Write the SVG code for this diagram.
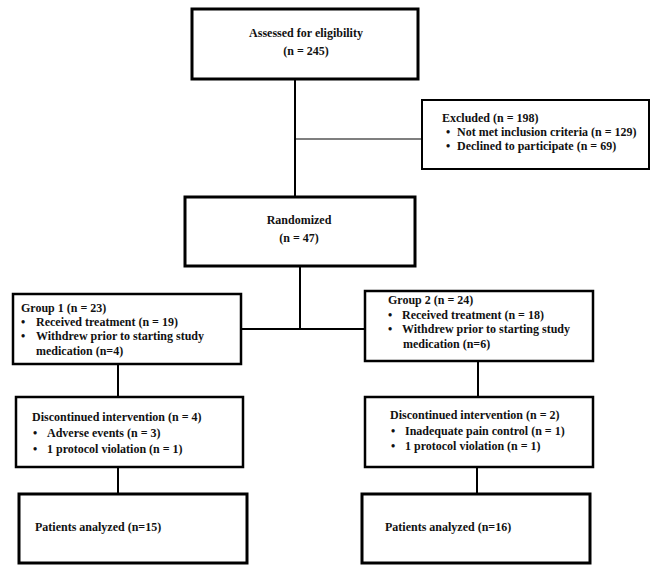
<svg xmlns="http://www.w3.org/2000/svg" width="656" height="579" viewBox="0 0 656 579">
<style>
.box{fill:#fff;stroke:#000;stroke-width:2.5}
.thick{stroke-width:3}
.thin{stroke-width:2}
.ln{stroke:#000;stroke-width:2;fill:none}
text{font-family:"Liberation Serif","Times New Roman",serif;font-size:12px;font-weight:bold;fill:#111}
.c{text-anchor:middle}
</style>
<rect width="656" height="579" fill="#fff"/>
<g id="connectors">
<line class="ln" x1="295" y1="79" x2="295" y2="197"/>
<line class="ln" x1="295" y1="139" x2="422" y2="139" style="stroke-width:1.2"/>
<line class="ln" x1="300" y1="266" x2="300" y2="329"/>
<line class="ln" x1="241" y1="329" x2="364" y2="329"/>
<line class="ln" x1="118" y1="364" x2="118" y2="397"/>
<line class="ln" x1="478" y1="361" x2="478" y2="397"/>
<line class="ln" x1="118" y1="467" x2="118" y2="494"/>
<line class="ln" x1="477" y1="467" x2="477" y2="494"/>
</g>
<g id="assessed">
<rect class="box thick" x="192" y="9" width="226" height="70"/>
<text class="c" x="306" y="37">Assessed for eligibility</text>
<text class="c" x="306" y="55">(n = 245)</text>
</g>
<g id="excluded">
<rect class="box thin" x="422" y="100" width="227" height="69"/>
<text x="442" y="122">Excluded (n = 198)</text>
<text x="446" y="136">•</text><text x="457" y="136">Not met inclusion criteria (n = 129)</text>
<text x="446" y="150">•</text><text x="457" y="150">Declined to participate (n = 69)</text>
</g>
<g id="randomized">
<rect class="box thick" x="185" y="197" width="230" height="69"/>
<text class="c" x="299" y="224">Randomized</text>
<text class="c" x="299" y="242">(n = 47)</text>
</g>
<g id="group1">
<rect class="box" x="13" y="294" width="228" height="70"/>
<text x="21" y="312">Group 1 (n = 23)</text>
<text x="21" y="326">•</text><text x="36" y="326">Received treatment (n = 19)</text>
<text x="21" y="340">•</text><text x="36" y="340">Withdrew prior to starting study</text>
<text x="36" y="355">medication (n=4)</text>
</g>
<g id="group2">
<rect class="box" x="365" y="291" width="228" height="70"/>
<text x="388" y="304">Group 2 (n = 24)</text>
<text x="388" y="319">•</text><text x="402" y="319">Received treatment (n = 18)</text>
<text x="388" y="333">•</text><text x="402" y="333">Withdrew prior to starting study</text>
<text x="403" y="348">medication (n=6)</text>
</g>
<g id="disc1">
<rect class="box" x="16" y="397" width="227" height="70"/>
<text x="32" y="421">Discontinued intervention (n = 4)</text>
<text x="33" y="437">•</text><text x="47" y="437">Adverse events (n = 3)</text>
<text x="33" y="453">•</text><text x="47" y="453">1 protocol violation (n = 1)</text>
</g>
<g id="disc2">
<rect class="box" x="365" y="397" width="228" height="70"/>
<text x="390" y="419">Discontinued intervention (n = 2)</text>
<text x="391" y="435">•</text><text x="405" y="435">Inadequate pain control (n = 1)</text>
<text x="391" y="450">•</text><text x="405" y="450">1 protocol violation (n = 1)</text>
</g>
<g id="analyzed1">
<rect class="box thick" x="19" y="494" width="228" height="69"/>
<text x="35" y="531">Patients analyzed (n=15)</text>
</g>
<g id="analyzed2">
<rect class="box thick" x="362" y="494" width="228" height="69"/>
<text x="385" y="531">Patients analyzed (n=16)</text>
</g>
</svg>
